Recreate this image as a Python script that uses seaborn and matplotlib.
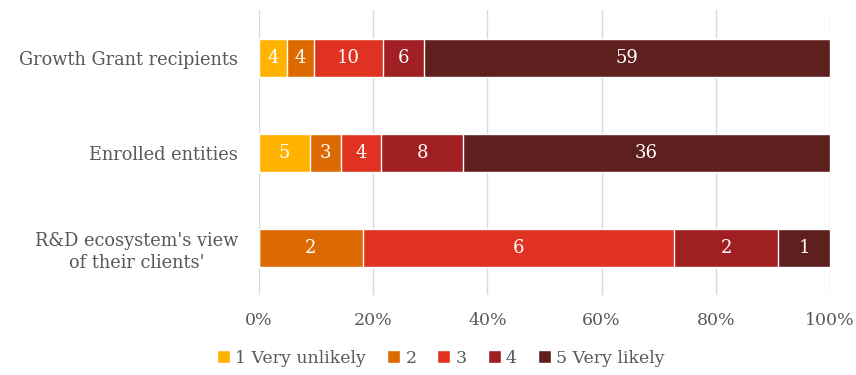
import numpy as np
import pandas as pd
import seaborn as sns
import matplotlib
matplotlib.use("Agg")
import matplotlib.pyplot as plt
from matplotlib.patches import Patch
from matplotlib.ticker import PercentFormatter

categories = ["Growth Grant recipients", "Enrolled entities",
              "R&D ecosystem's view\nof their clients'"]
levels = ["1 Very unlikely", "2", "3", "4", "5 Very likely"]
very_unlikely = [4, 5, 0]
rating_2 = [4, 3, 2]
rating_3 = [10, 4, 6]
rating_4 = [6, 8, 2]
very_likely = [59, 36, 1]
colors = ["#FFB300", "#DD6A00", "#E03220", "#A01F22", "#5E1F1F"]

sns.set_theme(style="white")
plt.rcParams["font.family"] = ["DejaVu Serif"]
grey = "#595959"

counts = np.array([very_unlikely, rating_2, rating_3, rating_4, very_likely], dtype=float)
pct = counts / counts.sum(axis=0) * 100
cum = np.cumsum(pct, axis=0)

fig = plt.figure(figsize=(8.56, 3.75), dpi=100)
ax = fig.add_axes([0.3026, 0.213, 0.6670, 0.760])

# overlay cumulative bars, widest first
for k in range(len(levels) - 1, -1, -1):
    df = pd.DataFrame({"cat": categories, "val": cum[k]})
    sns.barplot(data=df, x="val", y="cat", orient="h", color=colors[k],
                saturation=1, width=0.4, ax=ax)

for k in range(len(levels)):
    for i in range(len(categories)):
        if counts[k, i] > 0:
            ax.text(cum[k, i] - pct[k, i] / 2, i, f"{int(counts[k, i])}",
                    ha="center", va="center", color="white", fontsize=13)

ax.set_xlim(0, 100)
ax.set_ylim(2.5, -0.5)
ax.set_xticks(np.arange(0, 101, 20))
ax.xaxis.set_major_formatter(PercentFormatter(decimals=0))
ax.grid(axis="x", color="#D9D9D9", linewidth=1)
ax.set_axisbelow(True)
for s in ax.spines.values():
    s.set_visible(False)
ax.set_xlabel("")
ax.set_ylabel("")
ax.tick_params(axis="x", colors=grey, labelsize=12.5, pad=12, length=0)
ax.tick_params(axis="y", colors=grey, labelsize=12.8, pad=15, length=0)
for lab in ax.get_yticklabels():
    lab.set_multialignment("center")
    lab.set_linespacing(1.3)

handles = [Patch(facecolor=c, label=l) for c, l in zip(colors, levels)]
fig.legend(handles=handles, loc="center", bbox_to_anchor=(0.515, 0.045), ncol=5,
           frameon=False, handlelength=0.75, handleheight=0.75, handletextpad=0.3,
           columnspacing=1.2, labelcolor=grey, fontsize=12.5)

fig.savefig("out.png", dpi=100)
